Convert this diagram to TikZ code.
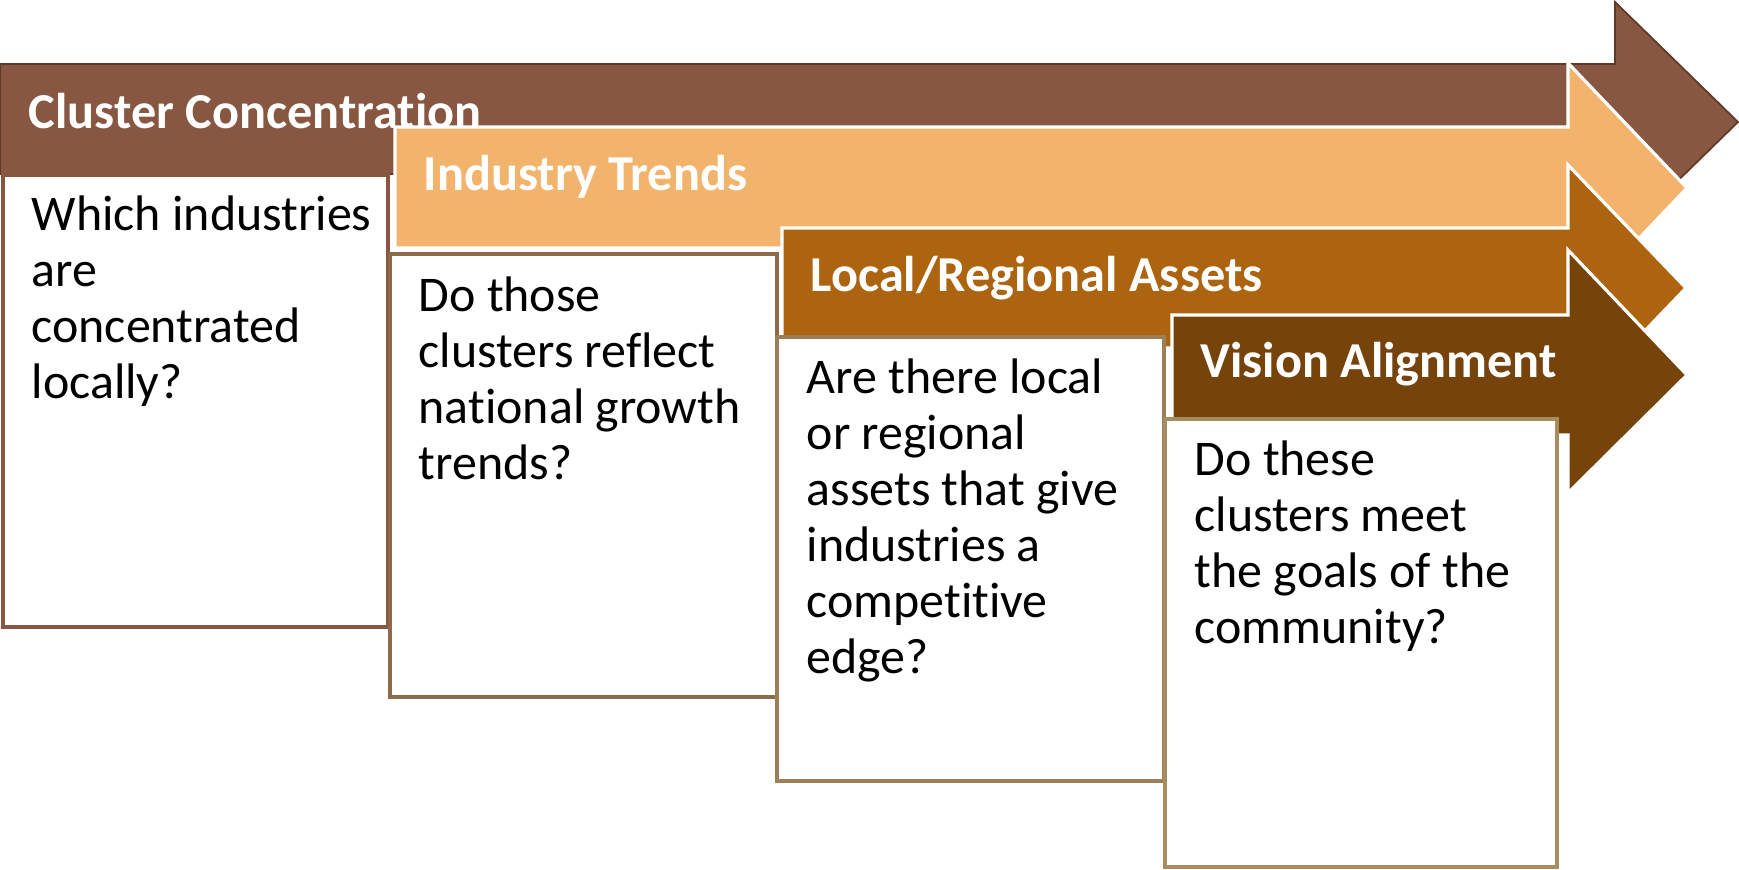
\documentclass[tikz,border=0pt]{standalone}
\usepackage{fontspec}
\setmainfont{Carlito}[Ligatures=NoCommon]
\usetikzlibrary{positioning}

\definecolor{concbrown}{HTML}{875742}
\definecolor{concedge}{HTML}{5E3A28}
\definecolor{trendtan}{HTML}{F2B46D}
\definecolor{assetrust}{HTML}{AD6410}
\definecolor{visionbrown}{HTML}{76430A}
\definecolor{edgetwo}{HTML}{8D6A48}
\definecolor{edgethree}{HTML}{9C7E57}
\definecolor{edgefour}{HTML}{A68C60}

\tikzset{
  band/.style={draw=white, line width=0.9pt, line join=miter},
  qbox/.style={fill=white, line width=0.9pt},
  headline/.style={anchor=base west, inner sep=0pt, text=white,
    font=\bfseries\fontsize{14.3}{15.9}\selectfont},
  % first line starts with a strut, so the top sits 39 units above its baseline
  question/.style={anchor=north west, inner sep=0pt, align=left,
    font=\fontsize{14.2}{15.9}\selectfont},
}

\begin{document}
\begin{tikzpicture}[x=0.01cm, y=-0.01cm]
        \useasboundingbox (0,0) rectangle (1739,869);

        % Cluster concentration
        \draw[fill=concbrown, draw=concedge, line width=0.5pt]
          (0,64) -- (1615,64) -- (1615,2) -- (1738,122) -- (1615,242) -- (1615,174) -- (0,174) -- cycle;
        \draw[qbox, draw=concbrown] (3,175) rectangle (388,627);
        \node[headline] (conc) at (28,128) {Cluster Concentration};
        \node[question] (concq) at (31,191) {\strut Which industries\\are\\concentrated\\locally?};

        % Industry trends
        \draw[band, fill=trendtan]
          (395,127) -- (1568,127) -- (1568,63) -- (1687,188) -- (1568,313) -- (1568,248) -- (395,248) -- cycle;
        \draw[qbox, draw=edgetwo] (390,254) rectangle (777,697);
        \node[headline] (trend) at (423,190) {Industry Trends};
        \node[question] (trendq) at (418,272) {\strut Do those\\clusters reflect\\national growth\\trends?};

        % Local/regional assets
        \draw[band, fill=assetrust]
          (782,228) -- (1568,228) -- (1568,165) -- (1686,288) -- (1568,411) -- (1568,348) -- (782,348) -- cycle;
        \draw[qbox, draw=edgethree] (777,337) rectangle (1164,781);
        \node[headline] (asset) at (810,291) {Local/Regional Assets};
        \node[question] (assetq) at (806,354) {\strut Are there local\\or regional\\assets that give\\industries a\\competitive\\edge?};

        % Vision alignment
        \draw[band, fill=visionbrown]
          (1172,315) -- (1568,315) -- (1568,250) -- (1687,375) -- (1568,493) -- (1568,435) -- (1172,435) -- cycle;
        \draw[qbox, draw=edgefour] (1165,419) rectangle (1557,867);
        \node[headline] (vision) at (1200,377) {Vision Alignment};
        \node[question] (visionq) at (1194,436) {\strut Do these\\clusters meet\\the goals of the\\community?};
      \end{tikzpicture}
\end{document}
